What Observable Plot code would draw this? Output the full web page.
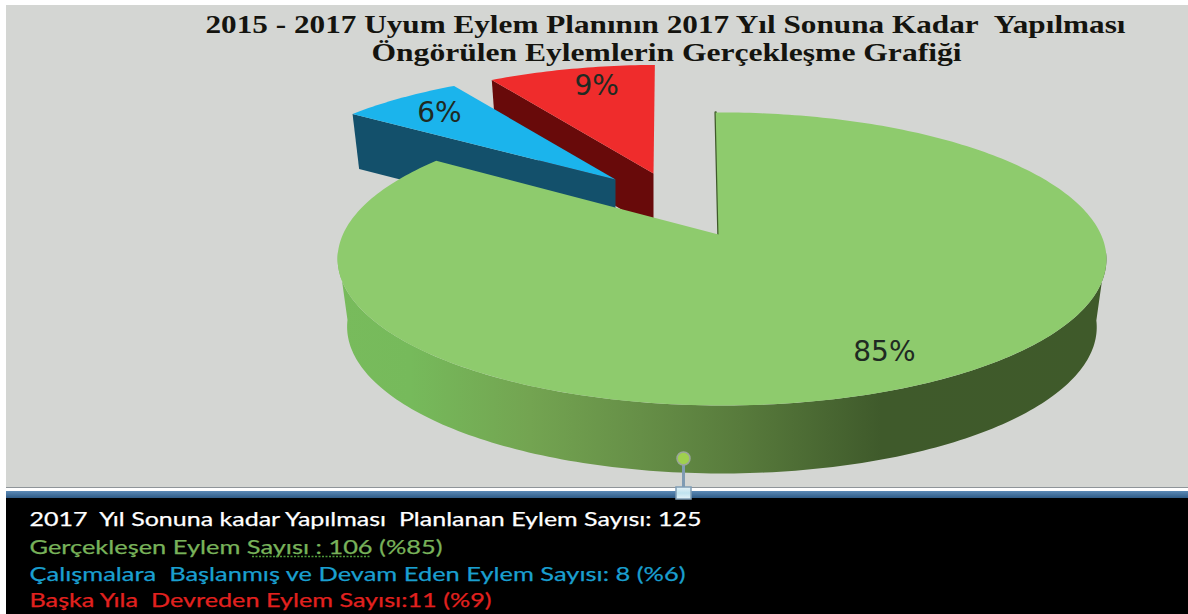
<!DOCTYPE html>
<html lang="tr">
<head>
<meta charset="utf-8">
<title>Uyum Eylem Planı</title>
<script src="https://cdn.jsdelivr.net/npm/d3@7"></script>
<script src="https://cdn.jsdelivr.net/npm/@observablehq/plot@0.6"></script>
<style>
html,body{margin:0;padding:0;background:#fff;overflow:hidden}
svg{display:block}
</style>
</head>
<body>
<div id="chart"></div>
<script>
// ---- data ----
const categories = ["Gerçekleşen", "Devam Eden", "Devreden"];
const counts = [106, 8, 11];
const percentLabels = ["85%", "6%", "9%"];
const titleLines = [
  "2015 - 2017 Uyum Eylem Planının 2017 Yıl Sonuna Kadar \u00A0Yapılması",
  "Öngörülen Eylemlerin Gerçekleşme Grafiği"
];
const legendLines = [
  "2017 \u00A0Yıl Sonuna kadar Yapılması \u00A0Planlanan Eylem Sayısı: 125",
  "Gerçekleşen Eylem Sayısı : 106 (%85)",
  "Çalışmalara \u00A0Başlanmış ve Devam Eden Eylem Sayısı: 8 (%6)",
  "Başka Yıla \u00A0Devreden Eylem Sayısı:11 (%9)"
];

// ---- styling / layout ----
const W = 1188, H = 614;
const topColors = ["#8ecb6d", "#1bb4ec", "#ef2c2c"];
const wallColors = ["url(#greenWall)", "#13506b", "#680a0a"];
const legendColors = ["#ffffff", "#78b25a", "#1a9fcf", "#e2211f"];
const titleLayout = [{x: 205, y: 24, len: 920}, {x: 371, y: 52, len: 590}];
const legendLayout = [{x: 29, y: 519, len: 672}, {x: 29, y: 547, len: 413}, {x: 29, y: 574, len: 656}, {x: 29, y: 600, len: 462}];
const sliceGeom = [
  {ax: 718, ay: 234, sx: 1, sy: 1, shear: 0, depth: 68, labelAt: 0.5, labelR: 0.82},
  {ax: 615, ay: 179, sx: 0.943, sy: 0.89, shear: -0.05, depth: 55, labelAt: 0.5, labelR: 0.8},
  {ax: 653, ay: 173, sx: 0.938, sy: 0.89, shear: -0.037, depth: 55, labelAt: 0.58, labelR: 0.8}
];
const A = 379, B = 142.4, K = 0.167, M = 0.009, ROT = -0.5;

// perspective projection of the pie disc: t = degrees clockwise from the top, r = 0..1
function proj(g, t, r, z = 0) {
  const a = t * Math.PI / 180;
  const u = r * Math.sin(a), v = -r * Math.cos(a);
  const w = 1 - K * v - M * u;
  const shrink = 1 - 0.025 * z;
  const dy = g.sy * B * v / w;
  return {
    x: g.ax + (g.sx * A * u / w + g.shear * dy) * shrink,
    y: g.ay + dy + z * g.depth
  };
}
function range(a, b) {
  const out = [];
  for (let t = a; t < b; t += 1) out.push(t);
  out.push(b);
  return out;
}

const total = d3.sum(counts);
let acc = 0;
const slices = counts.map((c, i) => {
  const t0 = ROT + acc / total * 360;
  acc += c;
  const t1 = ROT + acc / total * 360;
  const g = sliceGeom[i];
  return {
    name: categories[i], label: percentLabels[i], t0, t1, g,
    face: [proj(g, 0, 0), ...range(t0, t1).map(t => proj(g, t, 1))],
    wall: [proj(g, t0, 1), proj(g, t0, 0), proj(g, t0, 0, 1), proj(g, t0, 1, 1)],
    lab: proj(g, t0 + (t1 - t0) * g.labelAt, g.labelR)
  };
});

// green outer rim (front half), blue and red show only their cut faces
const gs = sliceGeom[0];
const rimT = range(97, 263);
const rim = [...rimT.map(t => proj(gs, t, 1)), ...rimT.slice().reverse().map(t => proj(gs, t, 1, 1))];
const green = slices[0], blue = slices[1], red = slices[2];

const poly = (pts, fill) => Plot.line(pts, {x: "x", y: "y", fill, stroke: "none"});
const panel = (x1, x2, y1, y2, fill, extra = {}) =>
  Plot.rect([{x1, x2, y1, y2}], {x1: "x1", x2: "x2", y1: "y1", y2: "y2", fill, inset: 0, ...extra});

const defs = () => {
  const d = d3.create("svg:defs");
  const gr = d.append("linearGradient").attr("id", "greenWall").attr("gradientUnits", "userSpaceOnUse")
    .attr("x1", 338).attr("x2", 1105).attr("y1", 0).attr("y2", 0);
  [[0, "#78bb5c"], [0.094, "#76ba5b"], [0.25, "#73a451"], [0.394, "#668f47"], [0.524, "#587b3c"], [0.707, "#3f5a2b"], [1, "#3f5a2a"]]
    .forEach(([o, c]) => gr.append("stop").attr("offset", o).attr("stop-color", c));
  const bar = d.append("linearGradient").attr("id", "bar").attr("x1", 0).attr("x2", 0).attr("y1", 0).attr("y2", 1);
  [[0, "#5c8ab6"], [1, "#2f5b86"]]
    .forEach(([o, c]) => bar.append("stop").attr("offset", o).attr("stop-color", c));
  const h = d.append("linearGradient").attr("id", "handle").attr("x1", 0).attr("x2", 0).attr("y1", 0).attr("y2", 1);
  [[0, "#e6f3f8"], [0.5, "#bfe3ef"], [1, "#e6f3f8"]]
    .forEach(([o, c]) => h.append("stop").attr("offset", o).attr("stop-color", c));
  return d.node();
};

const titleData = titleLines.map((text, i) => ({text, ...titleLayout[i]}));
const legendData = legendLines.map((text, i) => ({text, color: legendColors[i], ...legendLayout[i]}));
const labelData = slices.map(s => ({text: s.label, x: s.lab.x, y: s.lab.y}));

const plot = Plot.plot({
  width: W, height: H,
  margin: 0,
  x: {domain: [0, W], range: [0, W], axis: null},
  y: {domain: [0, H], range: [0, H], axis: null},
  style: {background: "#ffffff"},
  marks: [
    defs,
    // chrome
    panel(6, W, 5, 488, "#d4d6d3"),
    panel(6, W, 487, 488, "#8f9599"),
    panel(6, W, 488, 491, "#ffffff"),
    panel(6, W, 491, 498, "url(#bar)"),
    panel(6, W, 498, H, "#000000"),
    // exploded slices, back to front
    poly(red.wall, wallColors[2]),
    poly(red.face, topColors[2]),
    poly(blue.wall, wallColors[1]),
    poly(blue.face, topColors[1]),
    // big slice
    poly(rim, wallColors[0]),
    Plot.line([proj(gs, green.t0, 1), proj(gs, green.t0, 0)], {x: "x", y: "y", stroke: "#3f5a2a", strokeWidth: 2.5}),
    poly(green.face, topColors[0]),
    // percent labels
    Plot.text(labelData, {x: "x", y: "y", text: "text", fontSize: 28, fill: "#1f2a22",
      fontFamily: "'DejaVu Sans', sans-serif"}),
    // rotate handle
    Plot.ruleX([683], {y1: 462, y2: 489, stroke: "#7f9bb3", strokeWidth: 3}),
    Plot.dot([683], {x: d => d, y: () => 458, r: 6.5, fill: "#9fd04f", stroke: "#9aa59a", strokeWidth: 1.5}),
    panel(676, 691, 487, 499, "url(#handle)", {stroke: "#7f9db5", strokeWidth: 1.5}),
    // title
    Plot.text(titleData, {x: "x", y: "y", text: "text", textAnchor: "start", fontSize: 26, fontWeight: 700,
      fill: "#14140f", fontFamily: "'Liberation Serif', serif"}),
    // legend text
    Plot.text(legendData, {x: "x", y: "y", text: "text", textAnchor: "start", fontSize: 20, fill: "color",
      stroke: "color", strokeWidth: 0.25, fontFamily: "Lato, sans-serif"}),
    Plot.ruleY([556], {x1: 252, x2: 370, stroke: "#4f9a3a", strokeWidth: 1.5, strokeDasharray: "2,1.5"})
  ]
});

// fit each text line to its width in the reference
d3.select(plot).selectAll("text").each(function () {
  const hit = [...titleData, ...legendData].find(d => d.text === this.textContent);
  if (hit) {
    this.setAttribute("textLength", hit.len);
    this.setAttribute("lengthAdjust", "spacingAndGlyphs");
  }
});
document.getElementById("chart").append(plot);
</script>
</body>
</html>
